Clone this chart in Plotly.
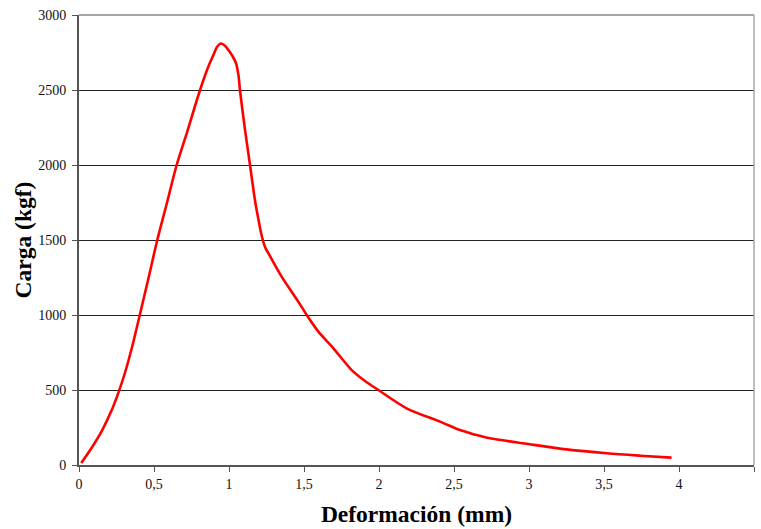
import plotly.graph_objects as go

deformacion = [0.015, 0.089, 0.155, 0.222, 0.267, 0.311, 0.356, 0.404, 0.463, 0.522, 0.587,
               0.651, 0.718, 0.807, 0.862, 0.896, 0.92, 0.944, 0.967, 0.996, 1.024,
               1.047, 1.063, 1.073, 1.107, 1.14, 1.173, 1.197, 1.22, 1.243, 1.265,
               1.351, 1.462, 1.518, 1.596, 1.696, 1.818, 1.907, 1.996, 2.184, 2.407,
               2.54, 2.593, 2.65, 2.74, 2.995, 3.25, 3.518, 3.74, 3.95]
carga = [13, 122, 233, 375, 494, 630, 795, 995, 1245, 1500, 1750,
         2000, 2211, 2500, 2655, 2733, 2787, 2810, 2800, 2767, 2725,
         2678, 2600, 2500, 2233, 2000, 1767, 1633, 1520, 1447, 1408,
         1256, 1089, 1000, 889, 778, 633, 560, 500, 378, 289,
         233, 217, 200, 178, 140, 104, 78, 62, 49]

x_ticks = [0, 0.5, 1, 1.5, 2, 2.5, 3, 3.5, 4, 4.5]
x_tick_labels = ["0", "0,5", "1", "1,5", "2", "2,5", "3", "3,5", "4", "4,5"]
y_ticks = [0, 500, 1000, 1500, 2000, 2500, 3000]
y_tick_labels = ["0", "500", "1000", "1500", "2000", "2500", "3000"]

fig = go.Figure()
fig.add_trace(go.Scatter(x=deformacion, y=carga, mode="lines",
                         line=dict(color="#FF0000", width=2.6, shape="spline", smoothing=0.8),
                         hoverinfo="x+y", showlegend=False))

tick_font = dict(family="Liberation Serif, serif", size=14, color="#111111")
title_font = dict(family="Liberation Serif, serif", size=23.5, color="#000000")

fig.update_layout(
    width=761, height=529,
    margin=dict(l=79, r=7, t=15, b=64),
    paper_bgcolor="white", plot_bgcolor="white",
    font=dict(family="Liberation Serif, serif", size=14, color="#111111"),
    xaxis=dict(range=[0, 4.5], tickvals=x_ticks, ticktext=x_tick_labels,
               showgrid=False, zeroline=False, showline=True, linecolor="#555555", linewidth=2,
               ticks="outside", ticklen=5, tickwidth=1, tickcolor="#555555",
               tickfont=tick_font,
               title=dict(text="<b>Deformación (mm)</b>", font=title_font, standoff=15)),
    yaxis=dict(range=[0, 3000], tickvals=y_ticks, ticktext=y_tick_labels,
               showgrid=True, gridcolor="#222222", gridwidth=1, zeroline=False,
               showline=True, linecolor="#555555", linewidth=2,
               ticks="outside", ticklen=5, tickwidth=1, tickcolor="#555555",
               tickfont=tick_font, ticklabelstandoff=3,
               title=dict(text="<b>Carga (kgf)</b>", font=title_font, standoff=0)),
    shapes=[
        dict(type="line", xref="paper", yref="paper", x0=0, x1=1, y0=1, y1=1,
             line=dict(color="#888888", width=1.5)),
        dict(type="line", xref="paper", yref="paper", x0=1, x1=1, y0=0, y1=1,
             line=dict(color="#AAAAAA", width=1.5)),
    ],
)

fig.write_html("out.html")
